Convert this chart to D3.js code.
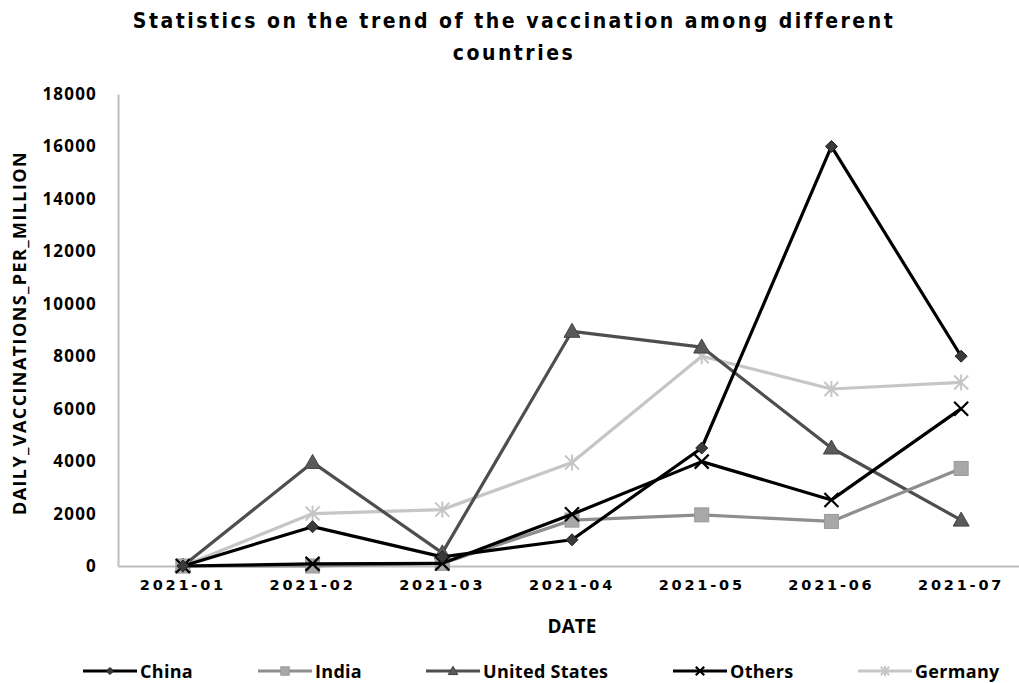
<!DOCTYPE html>
<html><head><meta charset="utf-8">
<script src="https://cdn.jsdelivr.net/npm/d3@7/dist/d3.min.js"></script>
<style>body{margin:0;background:#fff;} svg{display:block;}</style>
</head><body>
<svg id="c" width="1019" height="683"></svg>
<script>
const months = ["2021-01","2021-02","2021-03","2021-04","2021-05","2021-06","2021-07"];
const china   = [0, 1500, 350, 1000, 4500, 16000, 8000];
const india   = [0, 0, 100, 1750, 1950, 1700, 3720];
const us      = [0, 3950, 500, 8950, 8350, 4500, 1750];
const others  = [0, 80, 100, 1970, 3980, 2520, 6000];
const germany = [0, 2000, 2150, 3950, 8000, 6750, 7000];
const yTicks  = [0,2000,4000,6000,8000,10000,12000,14000,16000,18000];
const seriesNames = ["China","India","United States","Others","Germany"];

const series = [
  {name:seriesNames[0], values:china,   line:"#000000", fill:"#3a3a3a", marker:"diamond"},
  {name:seriesNames[1], values:india,   line:"#8e8e8e", fill:"#a8a8a8", marker:"square"},
  {name:seriesNames[2], values:us,      line:"#4e4e4e", fill:"#5a5a5a", marker:"triangle"},
  {name:seriesNames[3], values:others,  line:"#000000", fill:"#000000", marker:"x"},
  {name:seriesNames[4], values:germany, line:"#c6c6c6", fill:"#c6c6c6", marker:"star"}
];

const svg = d3.select("#c");
const x = d3.scaleBand().domain(months).range([118, 1026]);
const y = d3.scaleLinear().domain([0, 18000]).range([566, 94]);
const cx = m => x(m) + x.bandwidth()/2;

// Title
const title = svg.append("g").attr("font-family","'DejaVu Sans Condensed','DejaVu Sans',sans-serif")
  .attr("font-weight","bold").attr("font-size",21).attr("letter-spacing",2.5).attr("text-anchor","middle").attr("fill","#000");
title.append("text").attr("x",514).attr("y",28).text("Statistics on the trend of the vaccination among different");
title.append("text").attr("x",514).attr("y",60).text("countries");

// Axes
const yAxis = svg.append("g").attr("transform","translate(118,0)")
  .call(d3.axisLeft(y).tickValues(yTicks).tickSize(0).tickPadding(21).tickFormat(d3.format("d")));
yAxis.select(".domain").attr("stroke","#bdbdbd").attr("stroke-width",2);
yAxis.selectAll("text").attr("font-family","'Open Sans',sans-serif").attr("font-weight","bold").attr("font-size",17)
  .attr("letter-spacing",1.2).attr("fill","#000");

const xAxis = svg.append("g").attr("transform","translate(0,566)")
  .call(d3.axisBottom(x).tickSize(0).tickPadding(20));
xAxis.select(".domain").attr("stroke","#bdbdbd").attr("stroke-width",2);
xAxis.selectAll("text").attr("font-family","'DejaVu Sans',sans-serif").attr("font-weight","bold").attr("font-size",14.5)
  .attr("letter-spacing",2.8).attr("fill","#000").attr("dy","0.3em");

// Axis titles
svg.append("text").attr("x",572).attr("y",633).attr("text-anchor","middle")
  .attr("font-family","'Open Sans',sans-serif").attr("font-weight","bold").attr("font-size",19).text("DATE");
svg.append("text").attr("transform","translate(26,333) rotate(-90)").attr("text-anchor","middle")
  .attr("font-family","'Open Sans',sans-serif").attr("font-weight","bold").attr("font-size",18).attr("letter-spacing",1.4)
  .text("DAILY_VACCINATIONS_PER_MILLION");

function drawMarker(g, type, px, py, s, r) {
  r = r || 1;
  if (type==="diamond") {
    const a = 6*r;
    g.append("path").attr("d",`M${px},${py-a}L${px+a},${py}L${px},${py+a}L${px-a},${py}Z`).attr("fill",s.fill).attr("stroke","#222").attr("stroke-width",1);
  } else if (type==="square") {
    const a = 7*r;
    g.append("rect").attr("x",px-a).attr("y",py-a).attr("width",2*a).attr("height",2*a).attr("fill",s.fill).attr("stroke","#999").attr("stroke-width",1);
  } else if (type==="triangle") {
    const a = 8*r;
    g.append("path").attr("d",`M${px},${py-a}L${px+a},${py+0.75*a}L${px-a},${py+0.75*a}Z`).attr("fill",s.fill).attr("stroke","#444").attr("stroke-width",1);
  } else if (type==="x") {
    const a = 7*r;
    g.append("path").attr("d",`M${px-a},${py-a}L${px+a},${py+a}M${px-a},${py+a}L${px+a},${py-a}`).attr("stroke","#000").attr("stroke-width",2.2);
  } else if (type==="star") {
    const a = 7*r;
    g.append("path").attr("d",`M${px-a},${py-a}L${px+a},${py+a}M${px-a},${py+a}L${px+a},${py-a}M${px},${py-a-1}L${px},${py+a+1}`).attr("stroke",s.fill).attr("stroke-width",2);
  }
}

const line = d3.line().x((d,i)=>cx(months[i])).y(d=>y(d));
const drawOrder = [4,2,1,3,0];
drawOrder.forEach(k => {
  const s = series[k];
  const g = svg.append("g");
  g.append("path").datum(s.values).attr("d",line).attr("fill","none").attr("stroke",s.line).attr("stroke-width",3.2).attr("stroke-linejoin","round");
  s.values.forEach((v,i)=> drawMarker(g, s.marker, cx(months[i]), y(v), s));
});

// Legend
const legX = [83, 258, 426, 673, 858];
const legY = 671;
series.forEach((s,k) => {
  const g = svg.append("g");
  const x0 = legX[k];
  g.append("line").attr("x1",x0).attr("x2",x0+54).attr("y1",legY).attr("y2",legY).attr("stroke",s.line).attr("stroke-width",3.2);
  drawMarker(g, s.marker, x0+27, legY, s, 0.6);
  g.append("text").attr("x",x0+57).attr("y",legY+6.5).attr("font-family","'Open Sans',sans-serif").attr("font-weight","bold")
    .attr("font-size",18).attr("letter-spacing",0.3).attr("fill","#000").text(s.name);
});
</script>
</body></html>
